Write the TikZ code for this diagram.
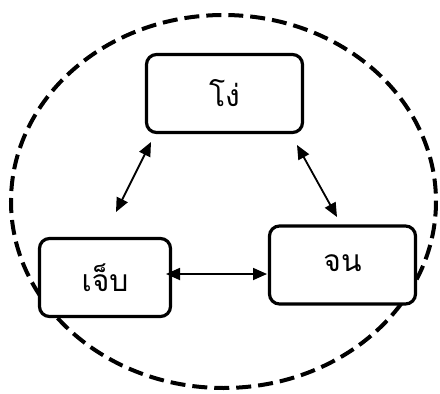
\documentclass[tikz,border=0pt]{standalone}
\usepackage{fontspec}
\newfontfamily\thaifont[Script=Thai]{Loma}
\usetikzlibrary{arrows.meta}

\begin{document}
\begin{tikzpicture}[x=1pt,y=-1pt]
\tikzstyle{every node}+=[inner sep=0pt]
\tikzstyle{box}=[draw,line width=3.2pt,rounded corners=10pt,fill=white,minimum height=78pt,font=\thaifont\fontsize{30}{36}\selectfont]
\tikzstyle{link}=[line width=1.8pt,{Triangle[length=14pt,width=12pt]}-{Triangle[length=14pt,width=12pt]}]
\useasboundingbox (0,0) rectangle (440,394);
\draw [line width=4pt,dash pattern=on 15pt off 7pt] (223.5,201.5) ellipse [x radius=212.5, y radius=186.5];
\node [box,minimum width=156pt] (ngo) at (224.5,93.5) {โง่};
\node [box,minimum width=131pt] (jep) at (105,277.5) {เจ็บ};
\node [box,minimum width=146pt] (jon) at (342.5,265) {\raisebox{3pt}{จน}};
\coordinate (ngoL) at (151,142);
\coordinate (jepT) at (116,212);
\coordinate (ngoR) at (297,145);
\coordinate (jonT) at (337,217);
\coordinate (jepR) at (166,274);
\coordinate (jonL) at (267,274);
\draw [link] (ngoL) -- (jepT);
\draw [link] (ngoR) -- (jonT);
\draw [link] (jepR) -- (jonL);
\end{tikzpicture}
\end{document}
